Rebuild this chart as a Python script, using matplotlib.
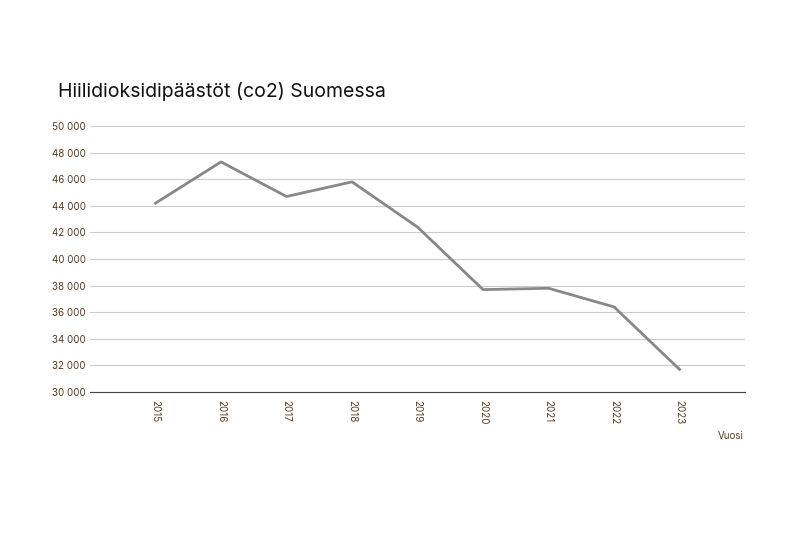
import matplotlib.pyplot as plt
from matplotlib.ticker import FuncFormatter

years = [2015, 2016, 2017, 2018, 2019, 2020, 2021, 2022, 2023]
emissions = [44200, 47300, 44700, 45800, 42400, 37700, 37800, 36400, 31700]

label_color = "#5a3a1e"
plt.rcParams["font.family"] = "Inter"

fig = plt.figure(figsize=(8, 5.33), dpi=100)
ax = fig.add_axes([0.1125, 0.2645, 0.8188, 0.4991])

ax.plot(years, emissions, color="#888888", linewidth=2)

ax.set_xlim(2014, 2024)
ax.set_ylim(30000, 50000)
ax.set_yticks(range(30000, 50001, 2000))
ax.yaxis.set_major_formatter(FuncFormatter(lambda v, p: f"{int(v):,}".replace(",", " ")))
ax.set_xticks(years)
ax.set_xticklabels([str(y) for y in years], rotation=270, fontsize=7, color=label_color)
ax.tick_params(axis="y", labelsize=7, labelcolor=label_color, length=0, pad=3)
ax.tick_params(axis="x", length=0, pad=6)

ax.grid(axis="y", color="#cccccc", linewidth=0.8)
ax.set_axisbelow(True)
for side in ["top", "right", "left"]:
    ax.spines[side].set_visible(False)
ax.spines["bottom"].set_color("#444444")

fig.text(0.0725, 0.818, "Hiilidioksidipäästöt (co2) Suomessa", fontsize=14, color="#111111")
fig.text(0.929, 0.176, "Vuosi", fontsize=7, color=label_color, ha="right")

fig.savefig("out.png", dpi=100)
